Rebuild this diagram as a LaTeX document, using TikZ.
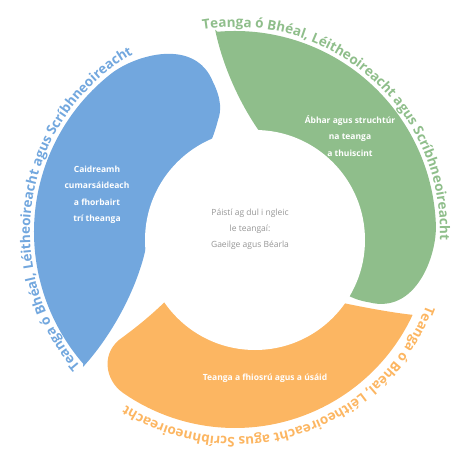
\documentclass[tikz,border=0pt]{standalone}
\usepackage{fontspec}
\setmainfont{Open Sans}
\usetikzlibrary{decorations.text}
\definecolor{petalblue}{RGB}{114,167,222}
\definecolor{petalgreen}{RGB}{143,190,139}
\definecolor{petalorange}{RGB}{252,182,98}
\definecolor{hubgrey}{RGB}{150,150,150}
\def\ringfont{\bfseries\fontsize{13.5}{15}\selectfont}
\def\petal{(221:201) arc[start angle=221, end angle=128, radius=201]
  .. controls (-100,177) and (-40,195) .. (-22,150)
  .. controls (-13,132) and (-14,120) .. (-17,112)
  .. controls (-30,60) and (-70,20) .. (-88,-10)
  .. controls (-95,-50) and (-120,-100) .. (-152,-135) -- cycle}
\tikzset{
  petaltext/.style={text=white, font=\bfseries\fontsize{8.5}{16.5}\selectfont, align=center},
  ringlabel/.style={decorate, decoration={text along path, text align=left,
    text color=#1, text={|\ringfont|Teanga ó Bhéal, Léitheoireacht agus Scríbhneoireacht}}}
}
\begin{document}
\begin{tikzpicture}[x=1pt,y=1pt]
  %%%%% START %%%%%
  \useasboundingbox (-235,-233) rectangle (235,232);

  \fill[petalblue] \petal;
  \fill[petalgreen, rotate=-126] \petal;
  \fill[petalorange] (-25:196) arc[start angle=-25, end angle=-125, radius=196]
    .. controls (-130,-148) and (-135,-120) .. (-112,-105)
    .. controls (-100,-96) and (-85,-85) .. (-60,-60) -- (60,-60)
    .. controls (100,-70) and (150,-80) .. (-25:196) -- cycle;
  \fill[white] (20,-8) circle[radius=110];

  \path[ringlabel=petalblue] (221:205) arc[start angle=221, end angle=85, radius=205];
  \path[ringlabel=petalgreen] (99:205) arc[start angle=99, end angle=-35, radius=205];
  \path[ringlabel=petalorange] (-21:205) arc[start angle=-21, end angle=-155, radius=205];

  \node[petaltext] (caidreamh) at (-138,37) {Caidreamh\\cumarsáideach\\a fhorbairt\\trí theanga};
  \node[petaltext] (abhar) at (115,96) {Ábhar agus struchtúr\\na teanga\\a thuiscint};
  \node[petaltext] (fiosru) at (30,-146) {Teanga a fhiosrú agus a úsáid};

  \node[text=hubgrey, font=\fontsize{8.5}{16}\selectfont, align=center] (hub) at (15,3)
    {Páistí ag dul i ngleic\\le teangaí:\\Gaeilge agus Béarla};
  %%%%% END %%%%%
\end{tikzpicture}
\end{document}
